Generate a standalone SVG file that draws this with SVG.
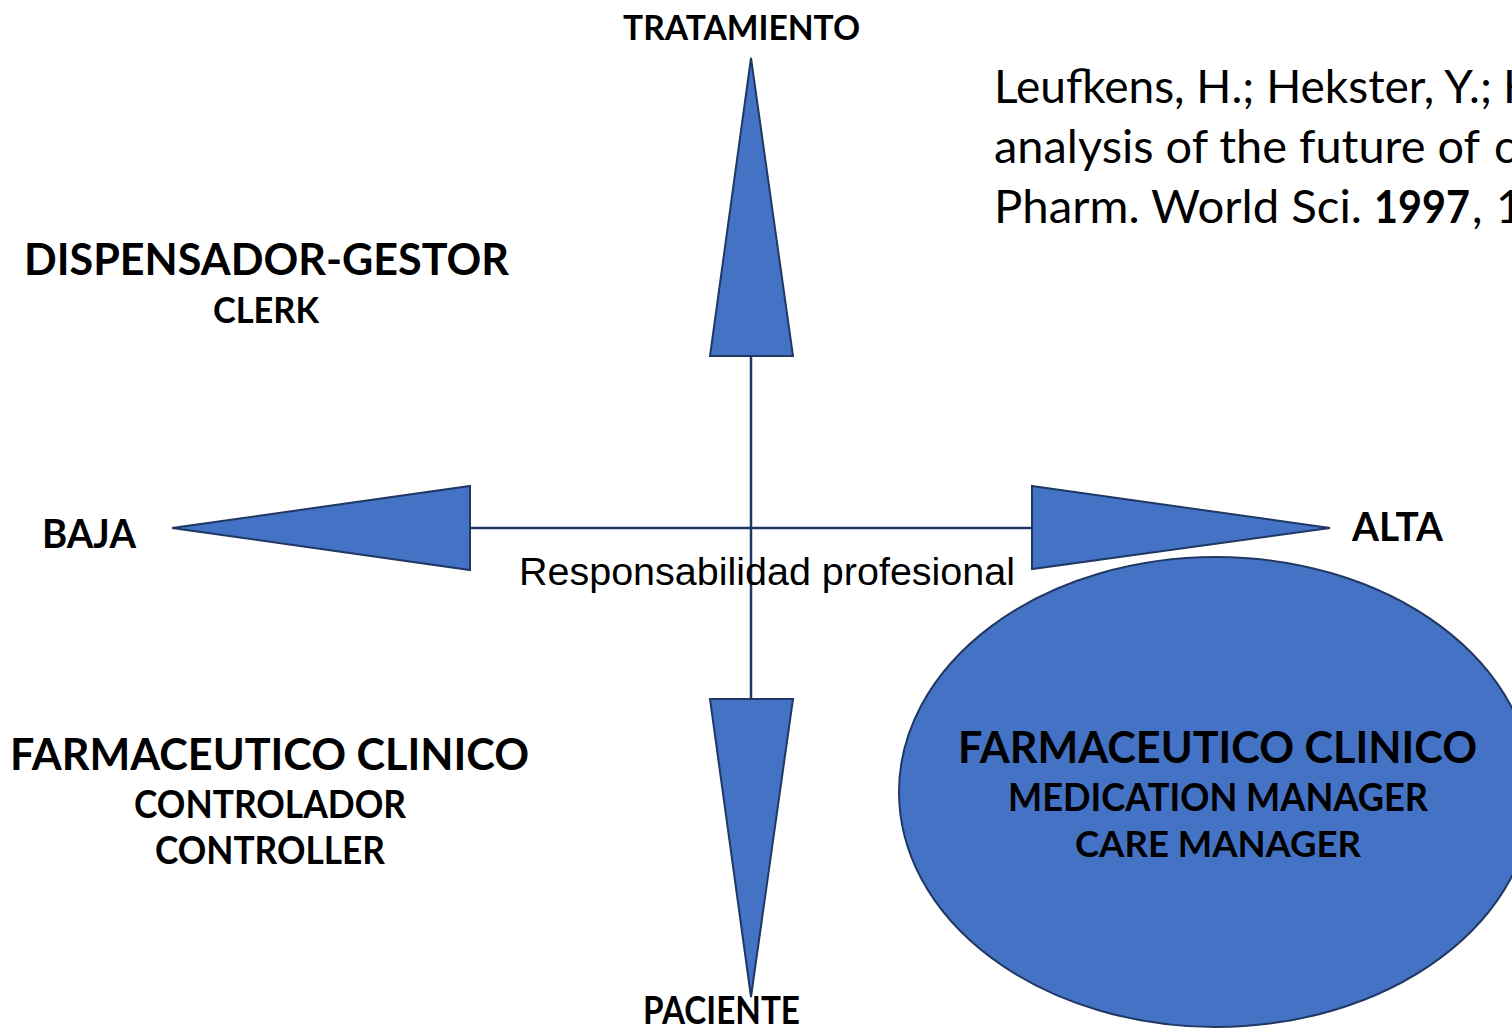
<svg xmlns="http://www.w3.org/2000/svg" width="1512" height="1028" viewBox="0 0 1512 1028">
<style>
.b{font-family:Lato,"Open Sans","Liberation Sans",sans-serif;font-weight:bold;fill:#000}
.r{font-family:Lato,"Open Sans","Liberation Sans",sans-serif;font-weight:normal;fill:#000}
.a{font-family:"Liberation Sans",Arial,sans-serif;fill:#000}
.sh{fill:#4472C4;stroke:#1F3864;stroke-width:2;stroke-linejoin:miter}
.ln{stroke:#1F3864;stroke-width:2.5;fill:none}
</style>
<rect width="1512" height="1028" fill="#fff"/>
<g id="connectors">
<line class="ln" x1="751" y1="356" x2="751" y2="699"/>
<line class="ln" x1="470" y1="528" x2="1032" y2="528"/>
</g>
<g id="arrow-up"><polygon class="sh" points="751,58 793,356 710,356"/></g>
<g id="arrow-down"><polygon class="sh" points="710,699 793,699 751,997"/></g>
<g id="arrow-left"><polygon class="sh" points="172,528 470,486 470,570"/></g>
<g id="arrow-right"><polygon class="sh" points="1032,486 1330,528 1032,569"/></g>
<g id="ellipse-node">
<ellipse class="sh" cx="1216" cy="792" rx="317" ry="235"/>
<text class="b" x="958" y="763" font-size="44" textLength="519" lengthAdjust="spacingAndGlyphs">FARMACEUTICO CLINICO</text>
<text class="b" x="1008" y="811" font-size="38" textLength="420" lengthAdjust="spacingAndGlyphs">MEDICATION MANAGER</text>
<text class="b" x="1075" y="857" font-size="36" textLength="286" lengthAdjust="spacingAndGlyphs">CARE MANAGER</text>
</g>
<g id="label-tratamiento"><text class="b" x="623" y="40" font-size="34" textLength="237" lengthAdjust="spacingAndGlyphs">TRATAMIENTO</text></g>
<g id="label-paciente"><text class="b" x="643" y="1024" font-size="38" textLength="157" lengthAdjust="spacingAndGlyphs">PACIENTE</text></g>
<g id="label-baja"><text class="b" x="42" y="548" font-size="41" textLength="94" lengthAdjust="spacingAndGlyphs">BAJA</text></g>
<g id="label-alta"><text class="b" x="1352" y="541" font-size="40" textLength="91" lengthAdjust="spacingAndGlyphs">ALTA</text></g>
<g id="label-responsabilidad"><text class="a" x="519" y="585" font-size="38" textLength="496" lengthAdjust="spacingAndGlyphs">Responsabilidad profesional</text></g>
<g id="label-dispensador">
<text class="b" x="24" y="275" font-size="44" textLength="485" lengthAdjust="spacingAndGlyphs">DISPENSADOR-GESTOR</text>
<text class="b" x="213" y="323" font-size="36" textLength="106" lengthAdjust="spacingAndGlyphs">CLERK</text>
</g>
<g id="label-farmaceutico">
<text class="b" x="10" y="770" font-size="44" textLength="519" lengthAdjust="spacingAndGlyphs">FARMACEUTICO CLINICO</text>
<text class="b" x="134" y="818" font-size="38" textLength="272" lengthAdjust="spacingAndGlyphs">CONTROLADOR</text>
<text class="b" x="155" y="864" font-size="38" textLength="230" lengthAdjust="spacingAndGlyphs">CONTROLLER</text>
</g>
<g id="citation">
<text class="r" font-size="46"><tspan x="994" y="103" textLength="498" lengthAdjust="spacingAndGlyphs">Leufkens, H.; Hekster, Y.;</tspan><tspan x="1503" y="103">H</tspan></text>
<text class="r" font-size="46"><tspan x="994" y="163" textLength="486" lengthAdjust="spacingAndGlyphs">analysis of the future of</tspan><tspan x="1494" y="163">c</tspan></text>
<text class="r" font-size="46"><tspan x="994" y="223" textLength="368" lengthAdjust="spacingAndGlyphs">Pharm. World Sci.</tspan><tspan x="1374" y="223" font-weight="bold" textLength="96" lengthAdjust="spacingAndGlyphs">1997</tspan><tspan x="1472" y="223">,</tspan><tspan x="1496" y="223">1</tspan></text>
</g>
</svg>
